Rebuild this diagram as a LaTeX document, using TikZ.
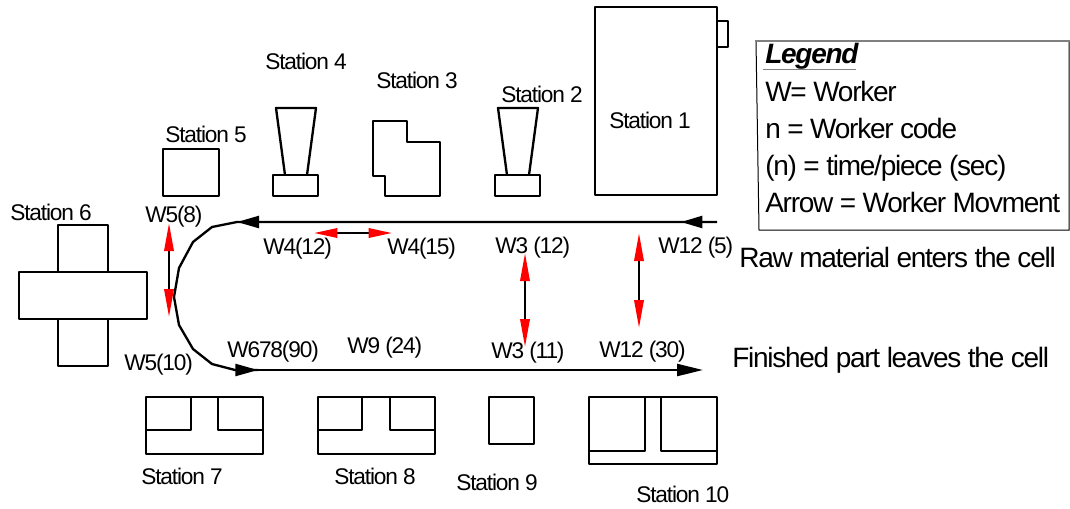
\documentclass[tikz,border=0pt]{standalone}
\usepackage{fontspec}
\setmainfont{Liberation Sans}
\usetikzlibrary{arrows.meta}
\definecolor{legline}{HTML}{808080}
\tikzset{
  stn/.style={draw=black, line width=1.75pt, line join=round},
  lbl/.style={anchor=base west, inner sep=0pt, font=\fontsize{17}{17}\selectfont\addfontfeatures{LetterSpace=-5}},
  big/.style={anchor=base west, inner sep=0pt, font=\fontsize{21}{21}\selectfont\addfontfeatures{LetterSpace=-4.5}},
  track/.style={line width=1.75pt, line join=round},
  flow/.style={-{Triangle[length=#1, width=9pt]}, line width=1.75pt},
  flow/.default=17pt,
  walk/.style={{Triangle[length=#1, width=7pt, color=red, fill=red]}-{Triangle[length=#1, width=7pt, color=red, fill=red]}, line width=1.75pt},
  walk/.default=21pt,
}
\newcommand{\pressat}[1]{% x of the left side of the base
  \draw[stn] ({#1},175) rectangle ({#1+45},196);
  \draw[stn] ({#1+12},175) -- ({#1+3},108) -- ({#1+43},108) -- ({#1+34},175);}
\newcommand{\teeat}[6]{% x0, x1, x2, x3, y of the ledge, y of the bottom
  \draw[stn] (#1,397) rectangle (#4,#6);
  \draw[stn] (#1,#5) -- (#2,#5) -- (#2,397);
  \draw[stn] (#4,#5) -- (#3,#5) -- (#3,397);}

\begin{document}
\begin{tikzpicture}[x=0.75pt, y=-0.75pt]
  \useasboundingbox (0,0) rectangle (1070,508);
  % stations
  \draw[stn] (595,7) rectangle (717,195);
  \draw[stn] (717,21) -- (728,21) -- (728,47) -- (717,47);
  \pressat{495}
  \pressat{273}
  \draw[stn] (373,121) -- (407,121) -- (407,142) -- (440,142) -- (440,196) -- (385,196) -- (385,176) -- (373,176) -- cycle;
  \draw[stn] (163,149) rectangle (219,196);
  \draw[stn] (19,272) rectangle (147,319);
  \draw[stn] (58,272) -- (58,225) -- (108,225) -- (108,272);
  \draw[stn] (58,319) -- (58,366) -- (108,366) -- (108,319);
  \teeat{146}{191}{218}{263}{430}{454}
  \teeat{318}{362}{390}{435}{430}{454}
  \draw[stn] (489,397) rectangle (534,444);
  \teeat{589}{645}{661}{717}{451}{464}
  \foreach \n/\x/\y in {1/609/128, 2/501/102, 3/376/88, 4/265/69, 5/165/142, 6/10/220,
                        7/141/484, 8/334/484, 9/456/490, 10/636/502}
    \node[lbl] (st\n) at (\x,\y) {Station \n};
  % main path
  \coordinate (in) at (717,222);
  \coordinate (in1) at (681,222);
  \coordinate (b0) at (237,222);
  \coordinate (b1) at (212,227);
  \coordinate (b2) at (193,242);
  \coordinate (b3) at (179,268);
  \coordinate (b4) at (174,297);
  \coordinate (b5) at (179,325);
  \coordinate (b6) at (193,349);
  \coordinate (b7) at (212,364);
  \coordinate (b8) at (235,370);
  \coordinate (b9) at (258,370);
  \coordinate (out) at (703,370);
  \draw[track] (in) -- (b0) -- (b1) -- (b2) -- (b3) -- (b4) -- (b5) -- (b6) -- (b7) -- (b8) -- (b9);
  \draw[flow=16pt] (in) -- (in1);
  \draw[flow=16.5pt] (in1) -- (b0);
  \draw[flow] (b8) -- (b9);
  \draw[flow=19.5pt] (b9) -- (out);
  % worker moves
  \coordinate (w5a) at (169,223);
  \coordinate (w5b) at (169,317);
  \coordinate (w4a) at (314,233);
  \coordinate (w4b) at (392,233);
  \coordinate (w3a) at (525,253);
  \coordinate (w3b) at (525,347);
  \coordinate (w12a) at (639,233);
  \coordinate (w12b) at (639,328);
  \draw[walk] (w5a) -- (w5b);
  \draw[walk=17.5pt] (w4a) -- (w4b);
  \draw[walk] (w3a) -- (w3b);
  \draw[walk] (w12a) -- (w12b);
  \node[lbl] (t5a) at (145,222) {W5(8)};
  \node[lbl] (t5b) at (124,370) {W5(10)};
  \node[lbl] (t4a) at (263,254) {W4(12)};
  \node[lbl] (t4b) at (387,254) {W4(15)};
  \node[lbl] (t3a) at (495,253) {W3 (12)};
  \node[lbl] (t12a) at (658,253) {W12 (5)};
  \node[lbl] (t3b) at (491,358) {W3 (11)};
  \node[lbl] (t12b) at (599,357) {W12 (30)};
  \node[lbl] (t678) at (227,357) {W678(90)};
  \node[lbl] (t9) at (347,353) {W9 (24)};
  \node[big] (raw) at (739,267) {Raw material enters the cell};
  \node[big] (fin) at (732,367) {Finished part leaves the cell};
  % legend
  \draw[line width=0.75pt] (756,41) -- (759,230) -- (1069,230) -- (1069,41);
  \draw[legline, line width=1.5pt] (755,41) -- (1070,41);
  \node[big, font=\fontsize{21}{21}\selectfont\bfseries\itshape\addfontfeatures{LetterSpace=-4.5}] (leg) at (765,63) {Legend};
  \draw[legline, line width=0.75pt] (763,69) -- (856,69);
  \node[big] (leg1) at (765,101) {W= Worker};
  \node[big] (leg2) at (765,138) {n = Worker code};
  \node[big] (leg3) at (765,175) {(n) = time/piece (sec)};
  \node[big] (leg4) at (765,212) {Arrow = Worker Movment};
\end{tikzpicture}
\end{document}
